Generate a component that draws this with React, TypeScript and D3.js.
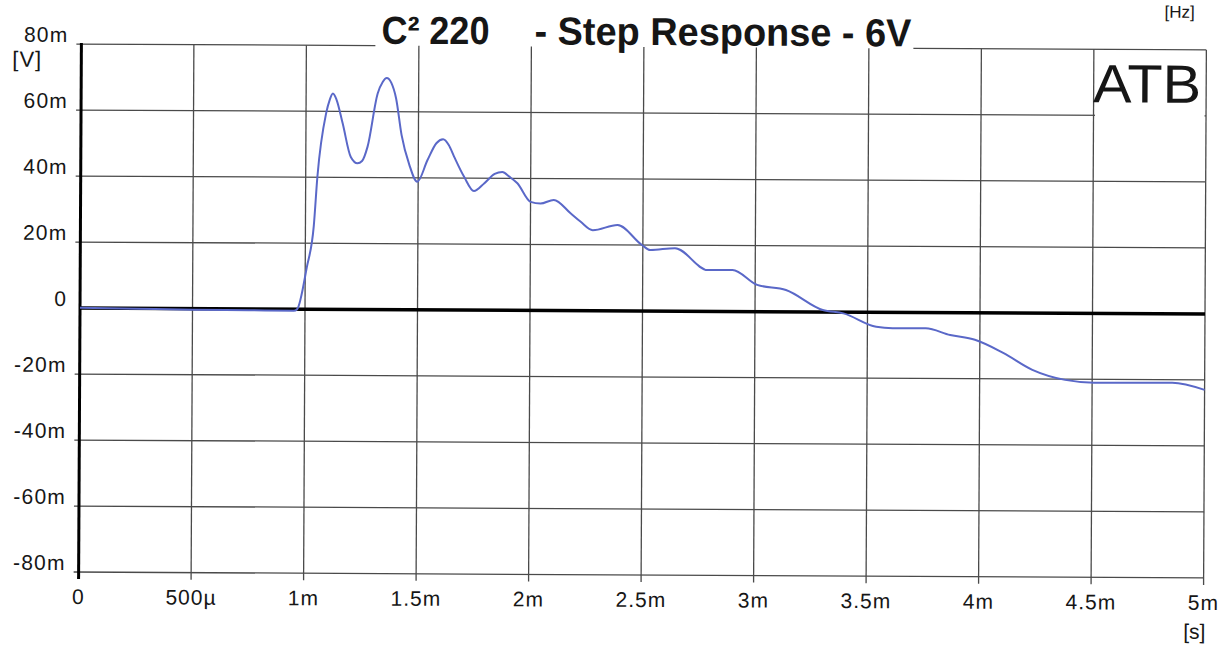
import React from 'react';
import * as d3 from 'd3';

const xTickValues = [0, 0.5, 1, 1.5, 2, 2.5, 3, 3.5, 4, 4.5, 5];
const xTickLabels = ['0', '500µ', '1m', '1.5m', '2m', '2.5m', '3m', '3.5m', '4m', '4.5m', '5m'];
const yTickValues = [80, 60, 40, 20, 0, -20, -40, -60, -80];
const yTickLabels = ['80m', '60m', '40m', '20m', '0', '-20m', '-40m', '-60m', '-80m'];

// time in ms, voltage in mV
const timeMs = [
  0, 0.25, 0.5, 0.75, 0.95, 0.965, 1.007, 1.037, 1.052, 1.089, 1.105, 1.119, 1.135, 1.163, 1.2, 1.23,
  1.25, 1.274, 1.318, 1.34, 1.358, 1.378, 1.4, 1.425, 1.46, 1.496, 1.541, 1.58, 1.61, 1.635, 1.659, 1.704,
  1.748, 1.793, 1.84, 1.874, 1.905, 1.941, 2.0, 2.044, 2.103, 2.178, 2.222, 2.277, 2.387, 2.496, 2.533,
  2.643, 2.789, 2.899, 3.009, 3.137, 3.301, 3.393, 3.539, 3.612, 3.759, 3.868, 3.978, 4.106,
  4.234, 4.38, 4.508, 4.856, 5.0,
];
const voltageMv = [
  0.1, -0.1, -0.3, -0.4, -0.5, 0, 12.7, 25.2, 40.2, 59.3, 63.5, 65.4, 63.6, 56.4, 46.2, 44.3,
  45.0, 49.3, 65.5, 69.0, 70.2, 68.8, 64.0, 53.0, 44.0, 38.8, 45.4, 50.5, 51.7, 50.0, 46.5, 40.4,
  36.1, 38.4, 41.3, 41.9, 40.5, 38.5, 32.9, 32.4, 33.5, 29.5, 27.0, 24.4, 26.0, 20.0, 18.5,
  19.1, 12.5, 12.6, 8.1, 6.6, 0.6, -0.4, -4.4, -4.8, -4.8, -6.8, -8.2, -12.2,
  -17.2, -20.2, -21.0, -20.9, -23.0,
];

const W = 1225;
const H = 645;
const L = 80;
const R = 1205;
const T = 47;
const B = 575;
const FONT = '"Liberation Sans", Arial, sans-serif';
const GRID = '#4a4a4a';
const INK = '#161616';

export default function App() {
  const x = d3.scaleLinear().domain([0, 5]).range([L, R]);
  const y = d3.scaleLinear().domain([-80, 80]).range([B, T]);
  const pts: [number, number][] = timeMs.map((t, i) => [t, voltageMv[i]]);
  const line = d3
    .line<[number, number]>()
    .x((d) => x(d[0]))
    .y((d) => y(d[1]))
    .curve(d3.curveMonotoneX);

  const cx = (L + R) / 2;
  const cy = y(0);

  return (
    <svg
      width={W}
      height={H}
      viewBox={`0 0 ${W} ${H}`}
      style={{ position: 'fixed', left: 0, top: 0, background: '#fff' }}
      fontFamily={FONT}
    >
      <rect x={0} y={0} width={W} height={H} fill="#fff" />
      <g transform={`rotate(0.3 ${cx} ${cy})`}>
        {yTickValues.map((v) =>
          v === 80 || v === 0 ? null : (
            <line key={'h' + v} x1={L - 5} x2={R} y1={y(v)} y2={y(v)} stroke={GRID} strokeWidth={1.3} />
          )
        )}
        <line x1={L - 5} x2={374} y1={y(80)} y2={y(80)} stroke={GRID} strokeWidth={1.3} />
        <line x1={912} x2={R} y1={y(80)} y2={y(80)} stroke={GRID} strokeWidth={1.3} />
        {xTickValues.map((v) =>
          v === 0 ? null : (
            <line key={'v' + v} x1={x(v)} x2={x(v)} y1={T} y2={B + 7} stroke={GRID} strokeWidth={1.3} />
          )
        )}
        <rect x={x(4.5) + 1.5} y={T + 1} width={R - x(4.5) - 3} height={y(60) - T + 6} fill="#fff" />
        <text x={1092} y={100} fontSize={54} textLength={108} lengthAdjust="spacingAndGlyphs" fill={INK}>
          ATB
        </text>
        <line x1={L} x2={L} y1={T - 1} y2={B + 7} stroke="#000" strokeWidth={3} />
        <line x1={L} x2={R} y1={y(0)} y2={y(0)} stroke="#000" strokeWidth={3.5} />
        <path d={line(pts) || ''} fill="none" stroke="#5a68c8" strokeWidth={2} strokeLinejoin="round" />
        {yTickValues.map((v, i) => (
          <text key={'yl' + v} x={67} y={y(v) - 2} fontSize={21} textAnchor="end" letterSpacing={1.2} fill={INK}>
            {yTickLabels[i]}
          </text>
        ))}
        <text x={11} y={70} fontSize={22} fill={INK} letterSpacing={1}>
          [V]
        </text>
        {xTickValues.map((v, i) => (
          <text key={'xl' + v} x={x(v)} y={607} fontSize={21} textAnchor="middle" letterSpacing={1} fill={INK}>
            {xTickLabels[i]}
          </text>
        ))}
        <text x={1196} y={636} fontSize={21} textAnchor="middle" fill={INK}>
          [s]
        </text>
        <text x={1178} y={15} fontSize={17} textAnchor="middle" fill={INK}>
          [Hz]
        </text>
        <text x={380} y={45} fontSize={39} fontWeight="bold" textLength={108} lengthAdjust="spacingAndGlyphs" fill={INK}>
          C² 220
        </text>
        <text x={533} y={45} fontSize={39} fontWeight="bold" textLength={377} lengthAdjust="spacingAndGlyphs" fill={INK}>
          - Step Response - 6V
        </text>
      </g>
    </svg>
  );
}
